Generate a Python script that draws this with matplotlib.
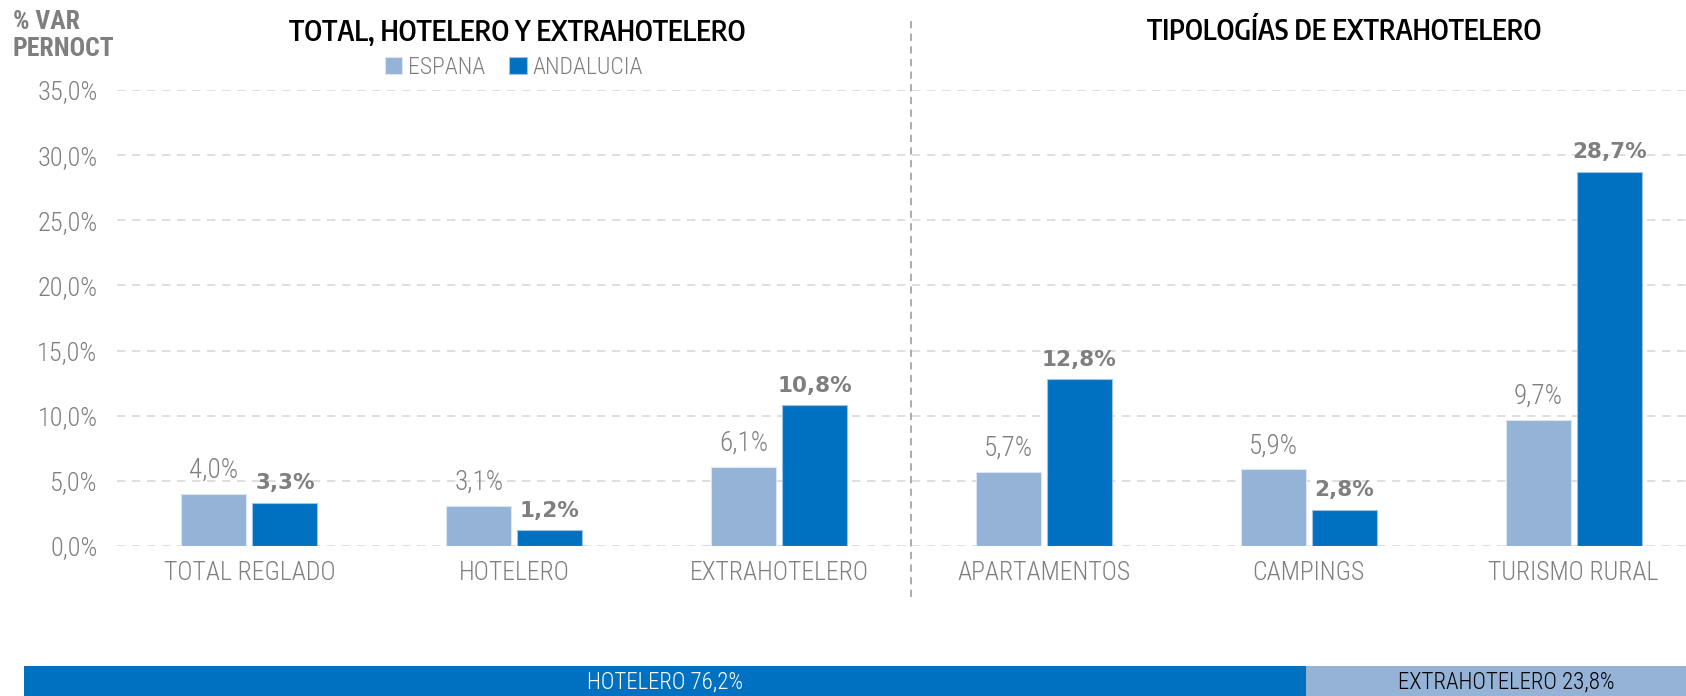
import matplotlib
matplotlib.use("Agg")
import matplotlib.pyplot as plt
import numpy as np

# data
categorias = ["TOTAL REGLADO", "HOTELERO", "EXTRAHOTELERO",
              "APARTAMENTOS", "CAMPINGS", "TURISMO RURAL"]
espana = [4.0, 3.1, 6.1, 5.7, 5.9, 9.7]
andalucia = [3.3, 1.2, 10.8, 12.8, 2.8, 28.7]
y_ticks = [0, 5, 10, 15, 20, 25, 30, 35]
cuota_labels = ["HOTELERO", "EXTRAHOTELERO"]
cuota_values = [76.2, 23.8]

NARROW = ["Roboto Condensed", "DejaVu Sans"]
TITLE = ["Encode Sans Condensed", "Roboto Condensed", "DejaVu Sans"]
BOLD = ["DejaVu Sans"]
GRIS = "#7f7f7f"
C_ESP = "#95b3d7"
C_AND = "#0070c0"

W, H = 1686, 696
fig = plt.figure(figsize=(W / 100, H / 100), dpi=100)

# main axes: x from 117 px to 1706 px (runs off the right edge), y 0..35 from 546 to 90 px
ax = fig.add_axes([117 / W, (H - 546) / H, (1706 - 117) / W, 456 / H])

x = np.arange(len(categorias))
bw = 0.245
off = 0.134
b1 = ax.bar(x - off, espana, bw, color=C_ESP, edgecolor="#dce6f2", linewidth=0.8, label="ESPANA", zorder=3)
b2 = ax.bar(x + off, andalucia, bw, color=C_AND, edgecolor="#9dc3e6", linewidth=0.8, label="ANDALUCIA", zorder=3)

for rect, v in zip(b1, espana):
    ax.annotate(f"{v:.1f}%".replace(".", ","), (rect.get_x() + rect.get_width() / 2, v),
                xytext=(0, 7), textcoords="offset points", ha="center", va="bottom",
                fontsize=19.5, color=GRIS, family=NARROW, fontweight="light")
for rect, v in zip(b2, andalucia):
    ax.annotate(f"{v:.1f}%".replace(".", ","), (rect.get_x() + rect.get_width() / 2, v),
                xytext=(0, 7), textcoords="offset points", ha="center", va="bottom",
                fontsize=15.5, color=GRIS, fontweight="bold", family=BOLD)

ax.set_xlim(-0.5, 5.5)
ax.set_ylim(0, 35)
ax.set_yticks(y_ticks)
ax.set_yticklabels([f"{t:.1f}%".replace(".", ",") for t in y_ticks], family=NARROW,
                   fontsize=19, color=GRIS, fontweight="light")
ax.set_xticks(x)
ax.set_xticklabels(categorias, family=NARROW, fontsize=18.5, color=GRIS, fontweight="light")
ax.tick_params(axis="both", length=0)
ax.tick_params(axis="y", pad=14)
ax.tick_params(axis="x", pad=11)
ax.grid(axis="y", color="#d9d9d9", linestyle=(0, (5, 4)), linewidth=1.2, zorder=0)
for s in ax.spines.values():
    s.set_visible(False)

# separator between the two blocks
ax.axvline(2.5, ymin=-0.112, ymax=1.156, color="#a6a6a6", linestyle=(0, (4, 3)),
           linewidth=1.3, clip_on=False, zorder=1)

# titles
fig.text(517 / W, 1 - 32 / H, "TOTAL, HOTELERO Y EXTRAHOTELERO", ha="center", va="center",
         fontsize=20, fontweight="semibold", family=TITLE, color="black")
fig.text(1344 / W, 1 - 32 / H, "TIPOLOGÍAS DE EXTRAHOTELERO", ha="center", va="center",
         fontsize=20, fontweight="semibold", family=TITLE, color="black")
fig.text(13 / W, 1 - 22 / H, "% VAR", ha="left", va="center",
         fontsize=18.5, fontweight="bold", family=NARROW, color=GRIS)
fig.text(13 / W, 1 - 49 / H, "PERNOCT", ha="left", va="center",
         fontsize=18.5, fontweight="bold", family=NARROW, color=GRIS)

leg = fig.legend(handles=[b1, b2], loc="center", bbox_to_anchor=(514 / W, 1 - 67 / H), ncol=2,
                 frameon=False, handlelength=0.75, handleheight=0.75, handletextpad=0.25,
                 columnspacing=1.0, prop={"family": NARROW, "size": 17, "weight": "light"})
for t in leg.get_texts():
    t.set_color(GRIS)

# bottom share bar
axb = fig.add_axes([24 / W, 0, (1706 - 24) / W, 30 / H])
left = 0
cols = [C_AND, C_ESP]
tcols = ["white", "black"]
for lab, v, c, tc in zip(cuota_labels, cuota_values, cols, tcols):
    axb.barh(0, v, left=left, height=1, color=c)
    axb.text(left + v / 2, -0.05, f"{lab} {v:.1f}%".replace(".", ","), ha="center", va="center",
             fontsize=16.5, color=tc, family=NARROW, fontweight="light")
    left += v
axb.set_xlim(0, 100)
axb.set_ylim(-0.5, 0.5)
axb.axis("off")

fig.savefig("out.png", dpi=100)
